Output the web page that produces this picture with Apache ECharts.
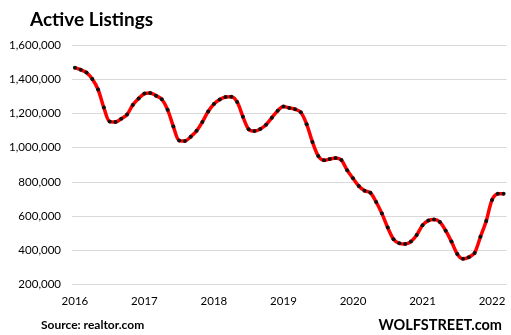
<!DOCTYPE html>
<html>
<head>
<meta charset="utf-8">
<script src="https://cdn.jsdelivr.net/npm/echarts@6/dist/echarts.min.js"></script>
<style>
  html, body { margin: 0; padding: 0; background: #fff; }
  #chart { width: 511px; height: 335px; }
</style>
</head>
<body>
<div id="chart"></div>
<script>
// Monthly active listings, Jan 2016 – Mar 2022
const months = [];
for (let y = 2016; y <= 2022; y++) {
  for (let m = 1; m <= 12; m++) {
    if (y === 2022 && m > 3) break;
    months.push(y + '-' + String(m).padStart(2, '0'));
  }
}

const listings = [
  1469000, 1457000, 1440000, 1403000, 1341000, 1235000, 1153000, 1151000, 1170000, 1194000, 1251000, 1288000,
  1317000, 1321000, 1305000, 1284000, 1223000, 1124000, 1042000, 1040000, 1065000, 1099000, 1151000, 1212000,
  1256000, 1282000, 1297000, 1299000, 1268000, 1182000, 1108000, 1098000, 1110000, 1135000, 1176000, 1217000,
  1241000, 1233000, 1226000, 1208000, 1138000, 1034000, 952000, 926000, 934000, 940000, 928000, 868000,
  821000, 776000, 748000, 737000, 682000, 614000, 532000, 464000, 440000, 436000, 450000, 489000,
  546000, 573000, 579000, 565000, 514000, 450000, 378000, 349000, 359000, 384000, 478000, 571000,
  694000, 731000, 731000
];

const yTicks = { min: 200000, max: 1600000, step: 200000 };

const chart = echarts.init(document.getElementById('chart'));
chart.setOption({
  animation: false,
  backgroundColor: '#ffffff',
  grid: { left: 72, right: 4.5, top: 45.3, bottom: 50.7 },
  title: [
    {
      text: 'Active Listings', left: 25, top: 5,
      textStyle: { fontFamily: 'Lato', fontWeight: 'bold', fontSize: 19, color: '#000' }
    },
    {
      text: 'Source: realtor.com', left: 36, top: 314,
      textStyle: { fontFamily: 'Lato', fontWeight: 'bold', fontSize: 12, color: '#000' }
    },
    {
      text: 'WOLFSTREET.com', right: 4, top: 313,
      textStyle: { fontFamily: 'Lato', fontWeight: 'bold', fontSize: 14.5, color: '#000' }
    }
  ],
  xAxis: {
    type: 'category',
    data: months,
    boundaryGap: true,
    axisLine: { show: false },
    axisTick: { show: false },
    axisLabel: {
      interval: (i) => i % 12 === 0,
      formatter: (v) => v.slice(0, 4),
      margin: 11,
      fontFamily: 'Lato', fontSize: 11.5, color: '#000'
    },
    splitLine: { show: false }
  },
  yAxis: {
    type: 'value',
    min: yTicks.min, max: yTicks.max, interval: yTicks.step,
    axisLine: { show: false },
    axisTick: { show: false },
    axisLabel: {
      margin: 11,
      formatter: (v) => v.toLocaleString('en-US'),
      fontFamily: 'Lato', fontSize: 11.5, color: '#000'
    },
    splitLine: { lineStyle: { color: '#d9d9d9', width: 1 } }
  },
  series: [{
    type: 'line',
    data: listings,
    smooth: 0.3,
    lineStyle: { color: '#ff0000', width: 3.5 },
    symbol: 'circle',
    symbolSize: 4,
    showSymbol: true,
    showAllSymbol: true,
    itemStyle: { color: '#111', borderWidth: 0 },
    z: 3
  }]
});
</script>
</body>
</html>
